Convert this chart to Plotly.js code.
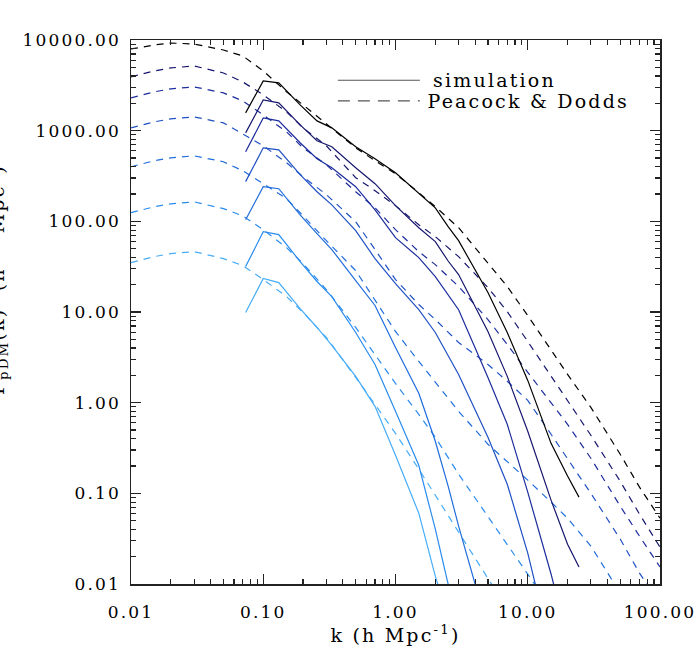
<!DOCTYPE html>
<html>
<head>
<meta charset="utf-8">
<script src="https://cdn.plot.ly/plotly-3.0.1.min.js"></script>
<style>
  html, body { margin: 0; padding: 0; background: #fff; }
  #chart { width: 700px; height: 668px; }
  .main-svg text { letter-spacing: 2.2px; }
</style>
</head>
<body>
<div id="chart"></div>
<script>
// ---- data: Peacock & Dodds (dashed) ----
const kPD = [0.01, 0.015, 0.02, 0.03, 0.05, 0.07, 0.1, 0.15, 0.2, 0.3, 0.5, 0.7, 1, 1.5, 2, 3, 5, 7, 10, 15, 20, 30, 50, 70, 100];
const pd1 = [7960, 8810, 9270, 9030, 7760, 6670, 4560, 2680, 1925, 1189, 647, 466, 335, 207, 145, 85.1, 35.1, 19.1, 9.14, 3.77, 2.05, 0.887, 0.270, 0.117, 0.0532];
const pd2 = [3920, 4560, 4920, 5170, 4330, 3450, 2480, 1610, 1074, 681, 303, 218, 149, 91.8, 67.8, 40.8, 18.6, 10.1, 4.73, 1.95, 1.035, 0.437, 0.136, 0.0589, 0.0255];
const pd3 = [2300, 2680, 2890, 3040, 2610, 2130, 1490, 970, 647, 421, 212, 141, 80.9, 46.3, 33.3, 19.1, 8.26, 4.39, 2.16, 1.01, 0.577, 0.244, 0.0722, 0.0337, 0.0154];
const pd4 = [1074, 1250, 1349, 1419, 1219, 923, 681, 443, 310, 197, 99.1, 48.8, 22.8, 12.1, 8.26, 4.61, 2.64, 1.72, 1.06, 0.448, 0.238, 0.100, 0.0313, 0.0132, 0.00603];
const pd5 = [400, 466, 502, 528, 454, 361, 260, 178, 115, 61.2, 28.6, 13.7, 6.10, 2.85, 1.67, 0.803, 0.348, 0.226, 0.140, 0.0800, 0.0532, 0.0262, 0.00796, 0.00336, 0.00142];
const pd6 = [124.5, 145, 156, 164, 138, 115, 80.9, 51.3, 34.2, 17.7, 6.75, 3.40, 1.63, 0.743, 0.415, 0.163, 0.0560, 0.0275, 0.0129, 0.00545];
const pd7 = [35.1, 40.8, 44.1, 46.3, 38.8, 32.5, 22.8, 14.8, 9.86, 5.24, 1.90, 0.957, 0.459, 0.185, 0.0955, 0.0364, 0.0114, 0.0053];

// ---- data: simulation (solid) ----
const kSim = [0.0736, 0.1, 0.131, 0.19, 0.255, 0.33, 0.5, 0.7, 1, 1.5, 2, 2.5, 3, 5, 7, 10, 15, 20, 24.4];
const sim1 = [1571, 3540, 3365, 1925, 1282, 1074, 664, 490, 344, 207, 141, 87.3, 61.2, 16.4, 5.94, 1.76, 0.356, 0.155, 0.0908];
const sim2 = [946, 2183, 2023, 1159, 773, 664, 390, 260, 149, 85.1, 59.7, 36.5, 25.9, 6.10, 1.95, 0.483, 0.0841, 0.0275, 0.0154];
const sim3 = [585, 1384, 1282, 735, 490, 390, 241, 134, 66.1, 39.8, 24.6, 15.6, 10.6, 1.90, 0.577, 0.103, 0.0129, 0.00248];
const sim4 = [274, 647, 615, 327, 212, 152, 78.9, 38.8, 20.6, 10.6, 5.94, 3.30, 2.05, 0.415, 0.126, 0.0219, 0.00192];
const sim5 = [104.2, 241, 229, 118, 73.1, 48.8, 22.2, 11.8, 4.06, 1.27, 0.375, 0.120, 0.0435, 0.00319];
const sim6 = [31.7, 76.9, 71.3, 36.0, 21.7, 14.8, 5.94, 2.64, 0.802, 0.204, 0.0403, 0.0102, 0.00319];
const sim7 = [9.86, 23.4, 21.1, 10.9, 6.75, 4.28, 1.95, 0.910, 0.263, 0.0604, 0.0122, 0.0042, 0.00149];

const colors = ['#000000', '#16166e', '#1b2c9c', '#1f50c4', '#206ddc', '#2a8cee', '#46acf8'];

const xTickVals = [0.01, 0.1, 1, 10, 100];
const xTickText = ['0.01', '0.10', '1.00', '10.00', '100.00'];
const yTickVals = [0.01, 0.1, 1, 10, 100, 1000, 10000];
const yTickText = ['0.01', '0.10', '1.00', '10.00', '100.00', '1000.00', '10000.00'];

const legendLabels = ['simulation', 'Peacock & Dodds'];

// ---- build ----
const pdSeries = [pd1, pd2, pd3, pd4, pd5, pd6, pd7];
const simSeries = [sim1, sim2, sim3, sim4, sim5, sim6, sim7];
const traces = [];
pdSeries.forEach((ys, i) => {
  traces.push({
    x: kPD.slice(0, ys.length), y: ys, type: 'scatter', mode: 'lines',
    line: {color: colors[i], width: 1.2, dash: '7px,6px'}, hoverinfo: 'skip'
  });
});
simSeries.forEach((ys, i) => {
  traces.push({
    x: kSim.slice(0, ys.length), y: ys, type: 'scatter', mode: 'lines',
    line: {color: colors[i], width: 1.2}, hoverinfo: 'skip'
  });
});

function minorVals(lo, hi) {
  const v = [];
  for (let e = lo; e < hi; e++) for (let m = 2; m <= 9; m++) v.push(m * Math.pow(10, e));
  return v;
}

const axisCommon = {
  type: 'log', showgrid: false, zeroline: false,
  showline: true, linecolor: '#222', linewidth: 1.5, mirror: 'allticks',
  ticks: 'inside', ticklen: 10, tickwidth: 1.3, tickcolor: '#222',
  tickmode: 'array',
  tickfont: {family: 'DejaVu Serif', size: 17, color: '#000'}
};

const layout = {
  width: 700, height: 668,
  margin: {l: 131, r: 40, t: 40, b: 84},
  paper_bgcolor: '#fff', plot_bgcolor: '#fff',
  showlegend: false,
  xaxis: Object.assign({}, axisCommon, {
    range: [-2, 2], tickvals: xTickVals, ticktext: xTickText,
    ticklabelstandoff: 12,
    minor: {tickmode: 'array', tickvals: minorVals(-2, 2), ticks: 'inside', ticklen: 5, tickwidth: 1.2, tickcolor: '#222'},
    title: {text: 'k (h Mpc<sup>-1</sup>)', font: {family: 'DejaVu Serif', size: 19, color: '#000'}, standoff: 6}
  }),
  yaxis: Object.assign({}, axisCommon, {
    range: [-2, 4], tickvals: yTickVals, ticktext: yTickText,
    ticklabelstandoff: 5,
    minor: {tickmode: 'array', tickvals: minorVals(-2, 4), ticks: 'inside', ticklen: 5, tickwidth: 1.2, tickcolor: '#222'}
  }),
  shapes: [
    {type: 'line', xref: 'paper', yref: 'paper', x0: 0.391, x1: 0.546, y0: 0.926, y1: 0.926,
     line: {color: '#555', width: 1.2}},
    {type: 'line', xref: 'paper', yref: 'paper', x0: 0.391, x1: 0.546, y0: 0.888, y1: 0.888,
     line: {color: '#555', width: 1.2, dash: '12px,8px'}}
  ],
  annotations: [
    {xref: 'paper', yref: 'paper', x: 0.588, y: 0.926, xanchor: 'left', yanchor: 'middle',
     text: legendLabels[0], showarrow: false, font: {family: 'DejaVu Serif', size: 19, color: '#000'}},
    {xref: 'paper', yref: 'paper', x: 0.588, y: 0.887, xanchor: 'left', yanchor: 'middle',
     text: legendLabels[1], showarrow: false, font: {family: 'DejaVu Serif', size: 19, color: '#000'}},
    {xref: 'paper', yref: 'paper', x: -0.252, y: 0.56, xanchor: 'center', yanchor: 'middle', textangle: -90,
     text: 'P<sub>pDM</sub>(k)  (h<sup>-3</sup>  Mpc<sup>3</sup>)', showarrow: false,
     font: {family: 'DejaVu Serif', size: 19, color: '#000'}}
  ]
};

Plotly.newPlot('chart', traces, layout, {displayModeBar: false, staticPlot: true});
</script>
</body>
</html>
